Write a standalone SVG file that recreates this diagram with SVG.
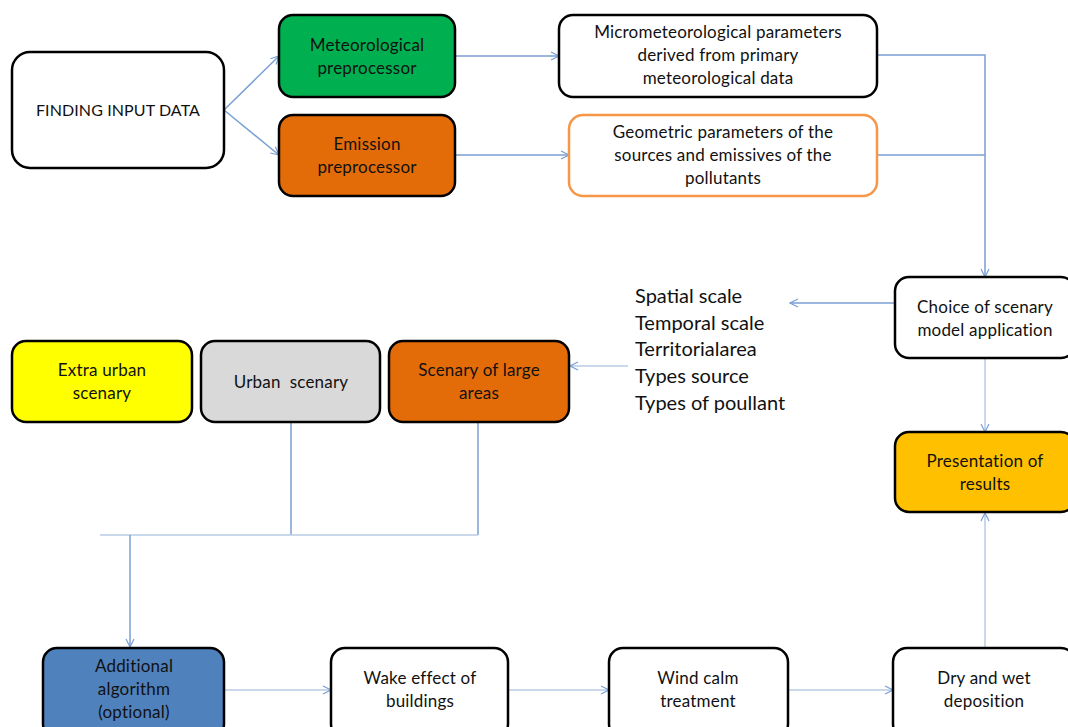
<svg xmlns="http://www.w3.org/2000/svg" width="1068" height="727" viewBox="0 0 1068 727">
<defs>
<marker id="arr" viewBox="0 0 10 10" refX="9" refY="5" markerWidth="10" markerHeight="10" markerUnits="userSpaceOnUse" orient="auto">
<path d="M1,1 L9,5 L1,9" fill="none" stroke="#7a9fd4" stroke-width="1.2"/>
</marker>
<style>
.box{stroke:#000;stroke-width:2.5}
.t{font-family:Lato,"Liberation Sans",sans-serif;font-size:17px;letter-spacing:0.2px;fill:#111;text-anchor:middle}
.lt{font-family:Lato,"Liberation Sans",sans-serif;font-size:20px;fill:#111}
.c{fill:none;stroke:#7a9fd4;stroke-width:1.5}
.cl{fill:none;stroke:#b8cbe6;stroke-width:1.5}
</style>
</defs>
<rect width="1068" height="727" fill="#fff"/>
<g id="connectors">
<path class="c" d="M224,110 L279,56" marker-end="url(#arr)"/>
<path class="c" d="M224,110 L279,155" marker-end="url(#arr)"/>
<path class="c" d="M455,56 L559,56" marker-end="url(#arr)"/>
<path class="c" d="M455,155 L569,155" marker-end="url(#arr)"/>
<path class="c" d="M877,55 L985,55 L985,277" marker-end="url(#arr)"/>
<path class="c" d="M877,155 L985,155"/>
<path class="c" d="M895,303 L790,303" marker-end="url(#arr)"/>
<path class="cl" d="M628,366 L570,366" marker-end="url(#arr)"/>
<path class="cl" d="M985,358 L985,432" marker-end="url(#arr)"/>
<path class="c" d="M291,422 L291,535"/>
<path class="c" d="M478,422 L478,535"/>
<path class="cl" d="M100,535 L478,535"/>
<path class="c" d="M130,535 L130,647" marker-end="url(#arr)"/>
<path class="cl" d="M224,690 L331,690" marker-end="url(#arr)"/>
<path class="cl" d="M508,690 L609,690" marker-end="url(#arr)"/>
<path class="cl" d="M788,690 L893,690" marker-end="url(#arr)"/>
<path class="cl" d="M985,648 L985,513" marker-end="url(#arr)"/>
</g>
<g id="finding"><rect class="box" x="12" y="52" width="212" height="116" rx="18" fill="#fff"/><text class="t" x="118" y="116" style="font-size:16px;letter-spacing:0.1px">FINDING INPUT DATA</text></g>
<g id="meteo"><rect class="box" x="279" y="15" width="176" height="82" rx="14" fill="#00b050"/><text class="t" x="367" y="51">Meteorological</text><text class="t" x="367" y="74">preprocessor</text></g>
<g id="emission"><rect class="box" x="279" y="115" width="176" height="81" rx="14" fill="#e36c09"/><text class="t" x="367" y="150">Emission</text><text class="t" x="367" y="173">preprocessor</text></g>
<g id="micro"><rect class="box" x="559" y="15" width="318" height="82" rx="14" fill="#fff"/><text class="t" x="718" y="38">Micrometeorological parameters</text><text class="t" x="718" y="61">derived from primary</text><text class="t" x="718" y="84">meteorological data</text></g>
<g id="geometric"><rect x="569" y="115" width="308" height="81" rx="14" fill="#fff" stroke="#f79646" stroke-width="2.5"/><text class="t" x="723" y="138">Geometric parameters of the</text><text class="t" x="723" y="161">sources and emissives of the</text><text class="t" x="723" y="184">pollutants</text></g>
<g id="choice"><rect class="box" x="895" y="277" width="180" height="81" rx="14" fill="#fff"/><text class="t" x="985" y="313">Choice of scenary</text><text class="t" x="985" y="336">model application</text></g>
<g id="list"><text class="lt" x="635" y="303">Spatial scale</text><text class="lt" x="635" y="330">Temporal scale</text><text class="lt" x="635" y="356">Territorialarea</text><text class="lt" x="635" y="383">Types source</text><text class="lt" x="635" y="410">Types of poullant</text></g>
<g id="extra"><rect class="box" x="12" y="341" width="180" height="81" rx="14" fill="#ffff00"/><text class="t" x="102" y="376">Extra urban</text><text class="t" x="102" y="399">scenary</text></g>
<g id="urban"><rect class="box" x="201" y="341" width="179" height="81" rx="14" fill="#d9d9d9"/><text class="t" x="291" y="388" style="white-space:pre">Urban  scenary</text></g>
<g id="large"><rect class="box" x="389" y="341" width="180" height="81" rx="14" fill="#e36c09"/><text class="t" x="479" y="376">Scenary of large</text><text class="t" x="479" y="399">areas</text></g>
<g id="presentation"><rect class="box" x="895" y="432" width="180" height="80" rx="14" fill="#ffc000"/><text class="t" x="985" y="467">Presentation of</text><text class="t" x="985" y="490">results</text></g>
<g id="additional"><rect class="box" x="43" y="648" width="181" height="90" rx="14" fill="#4f81bd"/><text class="t" x="134" y="672">Additional</text><text class="t" x="134" y="695">algorithm</text><text class="t" x="134" y="718">(optional)</text></g>
<g id="wake"><rect class="box" x="331" y="648" width="177" height="90" rx="14" fill="#fff"/><text class="t" x="420" y="684">Wake effect of</text><text class="t" x="420" y="707">buildings</text></g>
<g id="wind"><rect class="box" x="609" y="648" width="179" height="90" rx="14" fill="#fff"/><text class="t" x="698" y="684">Wind calm</text><text class="t" x="698" y="707">treatment</text></g>
<g id="dry"><rect class="box" x="893" y="648" width="182" height="90" rx="14" fill="#fff"/><text class="t" x="984" y="684">Dry and wet</text><text class="t" x="984" y="707">deposition</text></g>
</svg>
